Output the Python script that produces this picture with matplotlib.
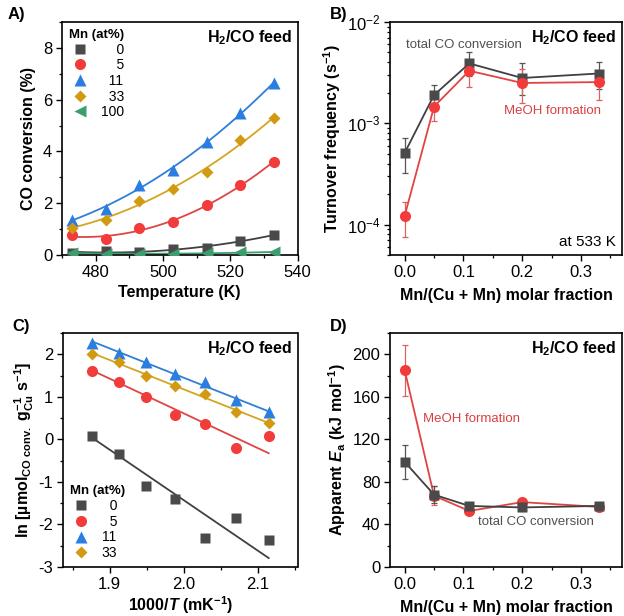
import matplotlib
matplotlib.use("Agg")
import matplotlib.pyplot as plt
from matplotlib.ticker import MultipleLocator, LogLocator, NullFormatter, FormatStrFormatter
import numpy as np

plt.rcParams['font.family'] = ['Liberation Sans', 'DejaVu Sans']
plt.rcParams['mathtext.fontset'] = 'custom'
plt.rcParams['mathtext.rm'] = 'Liberation Sans'
plt.rcParams['mathtext.it'] = 'Liberation Sans:italic'
plt.rcParams['mathtext.bf'] = 'Liberation Sans:bold'
plt.rcParams['mathtext.bfit'] = 'Liberation Sans:bold:italic'
plt.rcParams['axes.unicode_minus'] = False
plt.rcParams['font.size'] = 10

# --- data -------------------------------------------------------------
temps = [473, 483, 493, 503, 513, 523, 533]
mn_labels = ['0', '5', '11', '33', '100']

# CO conversion (%) vs temperature
conv_mn0 = [0.09, 0.15, 0.12, 0.22, 0.28, 0.53, 0.79]
conv_mn5 = [0.77, 0.60, 1.03, 1.28, 1.95, 2.72, 3.58]
conv_mn11 = [1.37, 1.79, 2.69, 3.29, 4.38, 5.47, 6.65]
conv_mn33 = [1.05, 1.37, 2.10, 2.56, 3.19, 4.45, 5.28]
conv_mn100 = [0.08, 0.05, 0.04, 0.05, 0.06, 0.12, 0.10]

# Arrhenius data, ln rate vs 1000/T (same temperatures, high T first)
ln_mn0 = [0.09, -0.35, -1.10, -1.39, -2.32, -1.86, -2.37]
ln_mn5 = [1.61, 1.34, 1.00, 0.57, 0.37, -0.20, 0.07]
ln_mn11 = [2.26, 2.04, 1.82, 1.53, 1.34, 0.92, 0.64]
ln_mn33 = [2.00, 1.81, 1.49, 1.26, 1.06, 0.64, 0.38]

# molar fraction Mn/(Cu + Mn)
frac = [0.0, 0.05, 0.11, 0.2, 0.33]

# turnover frequency at 533 K (s-1)
tof_total = [5.1e-4, 1.9e-3, 3.9e-3, 2.8e-3, 3.1e-3]
tof_total_lo = [3.2e-4, 1.5e-3, 2.9e-3, 1.9e-3, 2.2e-3]
tof_total_hi = [7.1e-4, 2.4e-3, 5.0e-3, 3.9e-3, 4.0e-3]
tof_meoh = [1.22e-4, 1.46e-3, 3.3e-3, 2.5e-3, 2.55e-3]
tof_meoh_lo = [7.6e-5, 1.05e-3, 2.3e-3, 1.6e-3, 1.7e-3]
tof_meoh_hi = [1.67e-4, 1.9e-3, 4.2e-3, 3.4e-3, 3.3e-3]

# apparent activation energies (kJ/mol)
ea_total = [98.8, 68.0, 57.4, 56.0, 57.4]
ea_total_err = [16.0, 8.0, 3.0, 3.0, 2.0]
ea_meoh = [185.0, 67.0, 52.7, 61.0, 56.5]
ea_meoh_err = [24.0, 9.0, 3.0, 3.0, 2.0]

R = 8.314e-3  # kJ/(mol K)

# --- styles -------------------------------------------------------------
styles = [
    dict(marker='s', mfc='#4a4a4a', line='#404040'),
    dict(marker='o', mfc='#f23c3c', line='#e04444'),
    dict(marker='^', mfc='#2a7de1', line='#2f7fd6'),
    dict(marker='D', mfc='#d19a12', line='#d4a520'),
    dict(marker='<', mfc='#3c9e6e', line='#3c9e6e'),
]
msizes = [7, 8, 8, 6.5, 8]
LABEL_FS = 11.5


def style_axes(ax):
    ax.tick_params(which='both', direction='out', top=False, right=False)
    ax.tick_params(which='major', length=4.5, width=1.0, labelsize=12, pad=2.5)
    ax.tick_params(which='minor', length=2.5, width=0.9)
    for sp in ax.spines.values():
        sp.set_linewidth(1.2)


def feed_label(ax):
    ax.text(0.975, 0.975, r'H$_\mathbf{2}$/CO feed', transform=ax.transAxes,
            ha='right', va='top', fontsize=11.5, fontweight='bold')


def mn_legend(ax, loc, anchor):
    leg = ax.legend(title='Mn (at%)', loc=loc, frameon=False, fontsize=10,
                    handletextpad=0.7, labelspacing=0.12, borderaxespad=0.1,
                    handlelength=1.6, bbox_to_anchor=anchor)
    leg.get_title().set_fontweight('bold')
    leg.get_title().set_fontsize(9.5)
    leg._legend_box.align = 'left'
    return leg


fig = plt.figure(figsize=(6.24, 6.16), dpi=100)
W, H = 624, 616


def px_axes(left, top, right, bottom):
    return fig.add_axes([left / W, 1 - bottom / H, (right - left) / W, (bottom - top) / H])


# --- A) CO conversion vs temperature ----------------------------------------
axA = px_axes(62, 22, 297.5, 255)
T = np.array(temps, dtype=float)
T_fine = np.linspace(T.min(), T.max(), 200)
for i, ys in enumerate([conv_mn0, conv_mn5, conv_mn11, conv_mn33, conv_mn100]):
    st = styles[i]
    ys = np.array(ys)
    # smooth second-order fit through the conversion data
    coef = np.polyfit(T, ys, 2)
    axA.plot(T_fine, np.polyval(coef, T_fine), color=st['line'], lw=1.3, zorder=2)
    axA.plot(T, ys, ls='none', marker=st['marker'], ms=msizes[i], mfc=st['mfc'],
             mec='none', label='\u2007' * (3 - len(mn_labels[i])) + mn_labels[i], zorder=3)
axA.set_xlim(470, 540)
axA.set_ylim(0, 9)
axA.xaxis.set_major_locator(MultipleLocator(20))
axA.xaxis.set_minor_locator(MultipleLocator(10))
axA.yaxis.set_major_locator(MultipleLocator(2))
axA.yaxis.set_minor_locator(MultipleLocator(1))
axA.set_xlabel('Temperature (K)', fontsize=LABEL_FS, fontweight='bold', labelpad=4)
axA.set_ylabel('CO conversion (%)', fontsize=LABEL_FS, fontweight='bold', labelpad=5)
style_axes(axA)
feed_label(axA)
mn_legend(axA, 'upper left', (0.0, 1.0))

# --- B) turnover frequency ----------------------------------------------
axB = px_axes(390, 22, 622, 255)
f = np.array(frac)
for vals, lo, hi, st, ms, ecol in [
        (tof_total, tof_total_lo, tof_total_hi, styles[0], 7, '#555555'),
        (tof_meoh, tof_meoh_lo, tof_meoh_hi, styles[1], 8, '#e06060')]:
    v = np.array(vals)
    yerr = [v - np.array(lo), np.array(hi) - v]
    axB.errorbar(f, v, yerr=yerr, fmt='none', ecolor=ecol, elinewidth=0.9,
                 capsize=2.5, capthick=0.9, zorder=2)
    axB.plot(f, v, color=st['line'], lw=1.3, marker=st['marker'], ms=ms,
             mfc=st['mfc'], mec='none', zorder=3)
axB.set_yscale('log')
axB.set_ylim(5e-5, 1e-2)
axB.set_xlim(-0.025, 0.37)
axB.xaxis.set_major_locator(MultipleLocator(0.1))
axB.xaxis.set_minor_locator(MultipleLocator(0.05))
axB.yaxis.set_major_locator(LogLocator(base=10, numticks=10))
axB.yaxis.set_minor_locator(LogLocator(base=10, subs=np.arange(2, 10), numticks=10))
axB.yaxis.set_minor_formatter(NullFormatter())
axB.xaxis.set_major_formatter(FormatStrFormatter('%.1f'))
axB.set_xlabel('Mn/(Cu + Mn) molar fraction', fontsize=LABEL_FS, fontweight='bold', labelpad=6)
axB.set_ylabel(r'Turnover frequency (s$^{\mathbf{-1}}$)', fontsize=LABEL_FS,
               fontweight='bold', labelpad=3)
style_axes(axB)
feed_label(axB)
axB.text(0.101, 5.9e-3, 'total CO conversion', color='#505050', fontsize=9.5,
         ha='center', va='center')
axB.text(0.252, 1.33e-3, 'MeOH formation', color='#d94040', fontsize=9.5,
         ha='center', va='center')
axB.text(0.975, 0.025, 'at 533 K', transform=axB.transAxes, fontsize=11,
         ha='right', va='bottom')

# --- C) Arrhenius plot ----------------------------------------------------
axC = px_axes(63, 333, 297.5, 567)
inv_T = 1000.0 / T[::-1]
ea_for_series = [ea_total[0], ea_total[1], ea_total[2], ea_total[4]]
for i, ys in enumerate([ln_mn0, ln_mn5, ln_mn11, ln_mn33]):
    st = styles[i]
    ys = np.array(ys)
    # slope from the apparent activation energy, intercept by least squares
    slope = -ea_for_series[i] / R / 1000.0
    icpt = np.mean(ys - slope * inv_T)
    xl = np.array([inv_T.min(), inv_T.max()])
    axC.plot(xl, icpt + slope * xl, color=st['line'], lw=1.3, zorder=2)
    axC.plot(inv_T, ys, ls='none', marker=st['marker'], ms=msizes[i], mfc=st['mfc'],
             mec='none', label='\u2007' * (2 - len(mn_labels[i])) + mn_labels[i], zorder=3)
axC.set_xlim(1.837, 2.153)
axC.set_ylim(-3, 2.5)
axC.xaxis.set_major_locator(MultipleLocator(0.1))
axC.xaxis.set_minor_locator(MultipleLocator(0.05))
axC.yaxis.set_major_locator(MultipleLocator(1))
axC.yaxis.set_minor_locator(MultipleLocator(0.5))
axC.xaxis.set_major_formatter(FormatStrFormatter('%.1f'))
axC.set_xlabel(r'1000/$\mathbfit{T}$ (mK$^{\mathbf{-1}}$)', fontsize=LABEL_FS,
               fontweight='bold', labelpad=2)
axC.set_ylabel(r'ln [µmol$_{\mathbf{CO\ conv.}}$ g$_{\mathbf{Cu}}^{\mathbf{-1}}$ s$^{\mathbf{-1}}$]',
               fontsize=LABEL_FS, fontweight='bold', labelpad=2)
style_axes(axC)
feed_label(axC)
mn_legend(axC, 'lower left', (0.0, 0.0))

# --- D) apparent activation energy ----------------------------------------
axD = px_axes(390, 333, 622, 567)
for vals, err, st, ms, ecol, z in [
        (ea_meoh, ea_meoh_err, styles[1], 8, '#e06060', 2),
        (ea_total, ea_total_err, styles[0], 7, '#555555', 4)]:
    axD.errorbar(f, vals, yerr=err, fmt='none', ecolor=ecol, elinewidth=0.9,
                 capsize=2.5, capthick=0.9, zorder=z)
    axD.plot(f, vals, color=st['line'], lw=1.3, marker=st['marker'], ms=ms,
             mfc=st['mfc'], mec='none', zorder=z + 1)
axD.set_xlim(-0.025, 0.37)
axD.set_ylim(0, 220)
axD.xaxis.set_major_locator(MultipleLocator(0.1))
axD.xaxis.set_minor_locator(MultipleLocator(0.05))
axD.yaxis.set_major_locator(MultipleLocator(40))
axD.yaxis.set_minor_locator(MultipleLocator(20))
axD.xaxis.set_major_formatter(FormatStrFormatter('%.1f'))
axD.set_xlabel('Mn/(Cu + Mn) molar fraction', fontsize=LABEL_FS, fontweight='bold', labelpad=6)
axD.set_ylabel(r'Apparent $\mathbfit{E}_{\mathbf{a}}$ (kJ mol$^{\mathbf{-1}}$)',
               fontsize=LABEL_FS, fontweight='bold', labelpad=3)
style_axes(axD)
feed_label(axD)
axD.text(0.114, 139, 'MeOH formation', color='#d94040', fontsize=9.5,
         ha='center', va='center')
axD.text(0.224, 42.4, 'total CO conversion', color='#505050', fontsize=9.5,
         ha='center', va='center')

# panel letters
for lbl, x, y in [('A)', 8, 14), ('B)', 330, 14), ('C)', 12, 326), ('D)', 330, 326)]:
    fig.text(x / W, 1 - y / H, lbl, fontsize=12, fontweight='bold', ha='left', va='center')

fig.savefig('out.png', dpi=100)
